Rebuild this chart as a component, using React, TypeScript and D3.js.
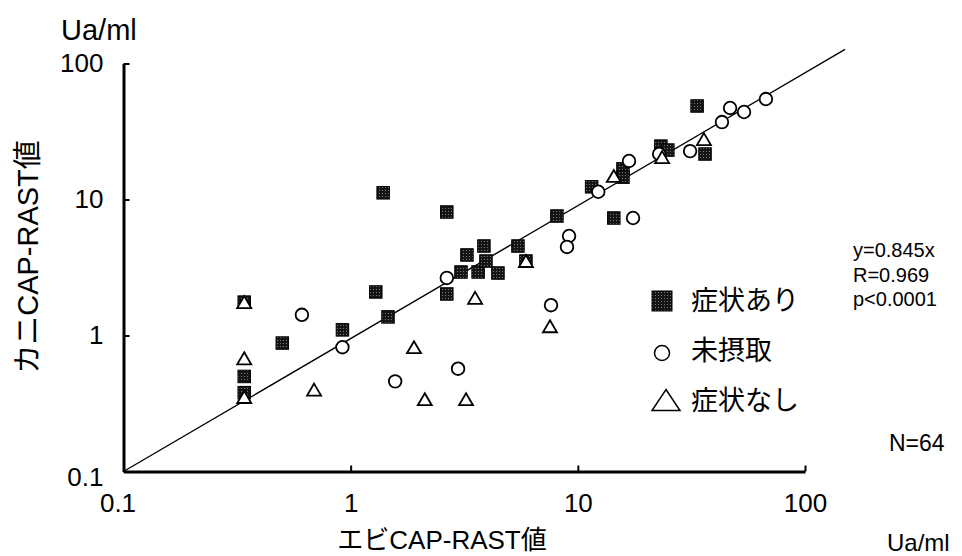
import React, { useRef, useEffect } from 'react'
import * as d3 from 'd3'

// 症状あり (shaded squares)
const symptomX = [0.34, 0.34, 0.34, 0.5, 0.92, 1.29, 1.39, 1.46, 2.65, 2.65, 3.06, 3.25, 3.64, 3.86, 3.94, 4.45, 5.45, 5.91, 8.09, 11.5, 14.4, 15.8, 15.8, 23.2, 24.9, 33.5, 36.3]
const symptomY = [1.76, 0.5, 0.38, 0.88, 1.1, 2.09, 11.2, 1.37, 8.09, 2.02, 2.93, 3.91, 2.93, 4.55, 3.53, 2.88, 4.55, 3.53, 7.56, 12.4, 7.31, 16.8, 14.6, 24.7, 23.1, 48.7, 21.6]
// 未摂取 (open circles)
const notEatenX = [0.61, 0.92, 1.57, 2.65, 2.97, 7.62, 9.15, 8.96, 12.3, 16.8, 17.5, 22.8, 31.2, 43.1, 46.8, 53.9, 67.3]
const notEatenY = [1.42, 0.82, 0.46, 2.65, 0.57, 1.67, 5.39, 4.48, 11.4, 19.2, 7.31, 21.6, 22.7, 37.1, 47.1, 44.0, 54.8]
// 症状なし (open triangles)
const noSymptomX = [0.34, 0.34, 0.34, 0.69, 1.9, 2.12, 3.22, 3.53, 5.91, 7.54, 14.4, 23.5, 35.9]
const noSymptomY = [1.76, 0.68, 0.353, 0.4, 0.82, 0.34, 0.34, 1.89, 3.53, 1.17, 14.9, 20.5, 27.8]

// regression line end points
const fitX = [0.1, 150]
const fitY = [0.1, 127]

const tickValues = [0.1, 1, 10, 100]
const legendLabels = ['症状あり', '未摂取', '症状なし']
const statLines = ['y=0.845x', 'R=0.969', 'p<0.0001']

const FONT = '"Liberation Sans", Arial, "Noto Sans CJK JP", sans-serif'

export default function App() {
    const svgRef = useRef(null)
    const width = 962
    const height = 556

    useEffect(() => {
        draw()
    }, [])

    const draw = () => {
        const svg = d3.select(svgRef.current)
        svg.selectAll('*').remove()

        const x = d3.scaleLog().domain([0.1, 100]).range([123.5, 805])
        const y = d3.scaleLog().domain([0.1, 100]).range([471.5, 63.5])

        // dotted fill for the squares
        const defs = svg.append('defs')
        const pat = defs.append('pattern')
            .attr('id', 'dots')
            .attr('width', 3)
            .attr('height', 3)
            .attr('patternUnits', 'userSpaceOnUse')
        pat.append('rect').attr('width', 3).attr('height', 3).attr('fill', '#151515')
        pat.append('rect').attr('x', 1).attr('y', 1).attr('width', 1).attr('height', 1).attr('fill', '#7a7a7a')

        // axes
        const yAxis = svg.append('g')
            .attr('transform', `translate(${x(0.1)},0)`)
            .call(d3.axisLeft(y).tickValues(tickValues).tickFormat(d => String(d)).tickSizeInner(-6).tickSizeOuter(0).tickPadding(20))
        yAxis.select('.domain').attr('stroke-width', 3)
        yAxis.selectAll('.tick line').attr('stroke-width', 2)
        yAxis.selectAll('text').attr('font-size', 26).attr('font-family', FONT).attr('fill', '#000')
        yAxis.select('.tick:first-of-type text').attr('dy', '0.55em')

        const xAxis = svg.append('g')
            .attr('transform', `translate(0,${y(0.1)})`)
            .call(d3.axisBottom(x).tickValues(tickValues).tickFormat(d => String(d)).tickSizeInner(-6).tickSizeOuter(0).tickPadding(22))
        xAxis.select('.domain').attr('stroke-width', 3)
        xAxis.selectAll('.tick line').attr('stroke-width', 2)
        xAxis.selectAll('text').attr('font-size', 26).attr('font-family', FONT).attr('fill', '#000')
        xAxis.select('.tick:first-of-type text').attr('dx', -6)

        // regression line
        const line = d3.line<number>().x(d => x(fitX[d])).y(d => y(fitY[d]))
        svg.append('path')
            .attr('d', line([0, 1]))
            .attr('fill', 'none')
            .attr('stroke', '#000')
            .attr('stroke-width', 1.4)

        // markers
        const sq = 12.5
        svg.append('g').selectAll('rect')
            .data(symptomX.map((v, i) => [v, symptomY[i]]))
            .join('rect')
            .attr('x', d => x(d[0]) - sq / 2)
            .attr('y', d => y(d[1]) - sq / 2)
            .attr('width', sq)
            .attr('height', sq)
            .attr('fill', 'url(#dots)')
            .attr('stroke', '#000')
            .attr('stroke-width', 1)

        svg.append('g').selectAll('circle')
            .data(notEatenX.map((v, i) => [v, notEatenY[i]]))
            .join('circle')
            .attr('cx', d => x(d[0]))
            .attr('cy', d => y(d[1]))
            .attr('r', 6.3)
            .attr('fill', '#fff')
            .attr('stroke', '#000')
            .attr('stroke-width', 1.8)

        const tri = (cx, cy, w, h) => `M${cx},${cy - h / 2}L${cx + w / 2},${cy + h / 2}L${cx - w / 2},${cy + h / 2}Z`
        svg.append('g').selectAll('path')
            .data(noSymptomX.map((v, i) => [v, noSymptomY[i]]))
            .join('path')
            .attr('d', d => tri(x(d[0]), y(d[1]), 14, 12))
            .attr('fill', '#fff')
            .attr('stroke', '#000')
            .attr('stroke-width', 1.8)

        // legend
        const lg = svg.append('g').attr('font-family', FONT)
        lg.append('rect').attr('x', 652).attr('y', 291).attr('width', 20).attr('height', 20)
            .attr('fill', 'url(#dots)').attr('stroke', '#000')
        lg.append('circle').attr('cx', 662).attr('cy', 353).attr('r', 7.5)
            .attr('fill', '#fff').attr('stroke', '#000').attr('stroke-width', 1.5)
        lg.append('path').attr('d', tri(666, 400, 28, 21))
            .attr('fill', '#fff').attr('stroke', '#000').attr('stroke-width', 1.5)
        lg.selectAll('text.lab')
            .data(legendLabels)
            .join('text')
            .attr('class', 'lab')
            .attr('x', 691)
            .attr('y', (d, i) => 301 + i * 50)
            .attr('dominant-baseline', 'central')
            .attr('font-size', 27)
            .text(d => d)

        // stats
        svg.append('g').selectAll('text')
            .data(statLines)
            .join('text')
            .attr('x', 853)
            .attr('y', (d, i) => 257 + i * 24.5)
            .attr('font-family', FONT)
            .attr('font-size', 20)
            .text(d => d)

        svg.append('text').attr('x', 889).attr('y', 451)
            .attr('font-family', FONT).attr('font-size', 23).text('N=64')

        // units and titles
        svg.append('text').attr('x', 61).attr('y', 40)
            .attr('font-family', FONT).attr('font-size', 29).text('Ua/ml')
        svg.append('text').attr('x', 887).attr('y', 551)
            .attr('font-family', FONT).attr('font-size', 24).text('Ua/ml')
        svg.append('text').attr('x', 442).attr('y', 549)
            .attr('text-anchor', 'middle')
            .attr('font-family', FONT).attr('font-size', 26).text('エビCAP-RAST値')
        svg.append('text')
            .attr('transform', 'translate(38,257) rotate(-90)')
            .attr('text-anchor', 'middle')
            .attr('font-family', FONT).attr('font-size', 29).text('カニCAP-RAST値')
    }

    return (
        <svg ref={svgRef} width={width} height={height}
            style={{ position: 'absolute', left: 0, top: 0, background: '#fff' }}></svg>
    )
}
